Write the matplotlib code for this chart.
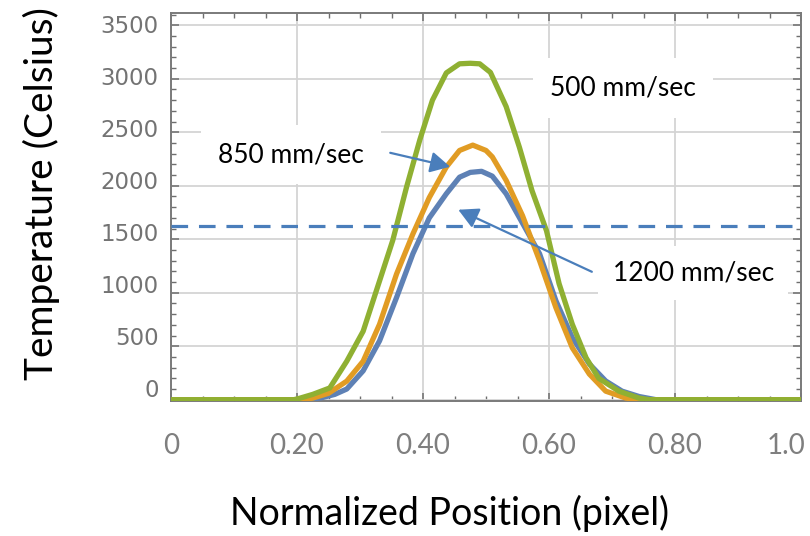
import matplotlib
matplotlib.use("Agg")
import matplotlib.pyplot as plt
from matplotlib.ticker import MultipleLocator, FixedLocator
import matplotlib.transforms as mtransforms

# ---------------- data ----------------
x_500 = [0.000, 0.100, 0.195, 0.205, 0.225, 0.252, 0.279, 0.305, 0.331, 0.352,
         0.374, 0.395, 0.415, 0.437, 0.458, 0.475, 0.490, 0.507, 0.532, 0.553,
         0.573, 0.596, 0.616, 0.637, 0.659, 0.679, 0.711, 0.743, 0.760, 1.000]
t_500 = [0, 0, 0, 15, 50, 110, 360, 640, 1110, 1490,
         1990, 2430, 2800, 3055, 3140, 3145, 3140, 3060, 2740, 2360,
         1955, 1580, 1085, 705, 390, 200, 80, 15, 0, 0]

x_850 = [0.000, 0.100, 0.210, 0.225, 0.250, 0.279, 0.305, 0.331, 0.358, 0.384,
         0.410, 0.437, 0.458, 0.479, 0.500, 0.510, 0.532, 0.558, 0.585, 0.611,
         0.637, 0.664, 0.690, 0.722, 0.740, 1.000]
t_850 = [0, 0, 0, 15, 60, 174, 360, 705, 1175, 1550,
         1890, 2175, 2330, 2380, 2330, 2270, 2050, 1720, 1300, 860,
         485, 240, 80, 15, 0, 0]

x_1200 = [0.000, 0.100, 0.220, 0.240, 0.260, 0.279, 0.305, 0.331, 0.358, 0.384,
          0.410, 0.437, 0.458, 0.475, 0.493, 0.510, 0.532, 0.558, 0.585, 0.611,
          0.637, 0.664, 0.690, 0.716, 0.743, 0.770, 1.000]
t_1200 = [0, 0, 0, 20, 50, 100, 270, 550, 955, 1365,
          1700, 1925, 2080, 2125, 2135, 2090, 1925, 1650, 1365, 925,
          580, 335, 175, 80, 30, 0, 0]

melt_line = 1620

x_ticks = [0, 0.2, 0.4, 0.6, 0.8, 1.0]
x_ticklabels = ["0", "0.20", "0.40", "0.60", "0.80", "1.0"]
y_ticks = [0, 500, 1000, 1500, 2000, 2500, 3000, 3500]
y_ticklabels = ["0", "500", "1000", "1500", "2000", "2500", "3000", "3500"]

labels = ["500 mm/sec", "850 mm/sec", "1200 mm/sec"]

# ---------------- style ----------------
c_blue = "#5E81B5"
c_orange = "#E19C24"
c_green = "#8FB032"
c_arrow = "#4A7EBB"
c_dash = "#4A7EBB"

W, H = 810, 536
fig = plt.figure(figsize=(W / 100, H / 100), dpi=100)
ax = fig.add_axes([171 / W, 1 - 401 / H, (801 - 171) / W, (401 - 13) / H])

ax.set_xlim(0, 1.0)
ax.set_ylim(-12, 3615)

ax.plot(x_1200, t_1200, color=c_blue, lw=3.8, zorder=3, solid_joinstyle="round")
ax.plot(x_850, t_850, color=c_orange, lw=3.8, zorder=3.1, solid_joinstyle="round")
ax.plot(x_500, t_500, color=c_green, lw=3.8, zorder=3.2, solid_joinstyle="round")

ax.axhline(melt_line, color=c_dash, lw=2.3, linestyle=(0, (5.2, 3.4)), zorder=3.3)

# ticks & grid
ax.xaxis.set_major_locator(FixedLocator(x_ticks))
ax.xaxis.set_minor_locator(MultipleLocator(0.05))
ax.yaxis.set_major_locator(FixedLocator(y_ticks))
ax.yaxis.set_minor_locator(MultipleLocator(100))
ax.set_xticklabels(x_ticklabels)
ax.set_yticklabels(y_ticklabels)

ax.grid(True, which="major", color="#d4d4d4", lw=1.3, zorder=0.5)
ax.tick_params(which="both", direction="in", top=True, right=True, color="#6e6e6e")
ax.tick_params(which="major", length=6, width=1.1)
ax.tick_params(which="minor", length=3.5, width=1.0)
ax.tick_params(axis="x", which="major", pad=23, labelsize=20, labelcolor="#7f7f7f")
ax.tick_params(axis="y", which="major", pad=9, labelsize=16.5, labelcolor="#737373")
for lab in ax.get_xticklabels():
    lab.set_fontfamily("Lato")
for lab in ax.get_yticklabels():
    lab.set_fontfamily("DejaVu Sans")

for sp in ax.spines.values():
    sp.set_color("#7a7a7a")
    sp.set_linewidth(1.4)

ax.set_xlabel("Normalized Position (pixel)", fontsize=27, family="Lato")
ax.xaxis.set_label_coords((450 - 171) / (801 - 171), -(513 - 401) / (401 - 13))
ax.xaxis.label.set_va("center")
ax.set_ylabel("Temperature (Celsius)", fontsize=28, family="Lato")
ax.yaxis.set_label_coords(-(171 - 41) / (801 - 171), (401 - 194) / (401 - 13))
ax.yaxis.label.set_va("center")

# annotations
box = dict(boxstyle="square,pad=0.65", fc="white", ec="none")
ax.text(0.717, 2915, labels[0], fontsize=19, family="Lato", ha="center",
        va="center", bbox=box, zorder=2.2)
ax.text(0.190, 2290, labels[1], fontsize=19, family="Lato", ha="center",
        va="center", bbox=box, zorder=2.2)
ax.text(0.829, 1187, labels[2], fontsize=19, family="Lato", ha="center",
        va="center", bbox=dict(boxstyle="square,pad=0.55", fc="white", ec="none"),
        zorder=2.2)

arrowprops = dict(arrowstyle="-|>,head_length=0.75,head_width=0.4", color=c_arrow,
                  lw=1.6, mutation_scale=16, shrinkA=0, shrinkB=0)
ax.annotate("", xy=(0.443, 2178), xytext=(0.348, 2308), arrowprops=arrowprops,
            zorder=4)
ax.annotate("", xy=(0.456, 1776), xytext=(0.668, 1196), arrowprops=arrowprops,
            zorder=4)

# small label offsets to mimic the reference layout
fig.canvas.draw()
xt = ax.xaxis.get_major_ticks()
xt[-1].label1.set_transform(xt[-1].label1.get_transform() +
                            mtransforms.ScaledTranslation(-15 / 100, 0, fig.dpi_scale_trans))
for tk, v in zip(ax.yaxis.get_major_ticks(), y_ticks):
    dy = 1.5 + 10.5 * (3500 - v) / 3500
    tk.label1.set_transform(tk.label1.get_transform() +
                            mtransforms.ScaledTranslation(0, dy / 100, fig.dpi_scale_trans))

fig.savefig("out.png", dpi=100, facecolor="white")
